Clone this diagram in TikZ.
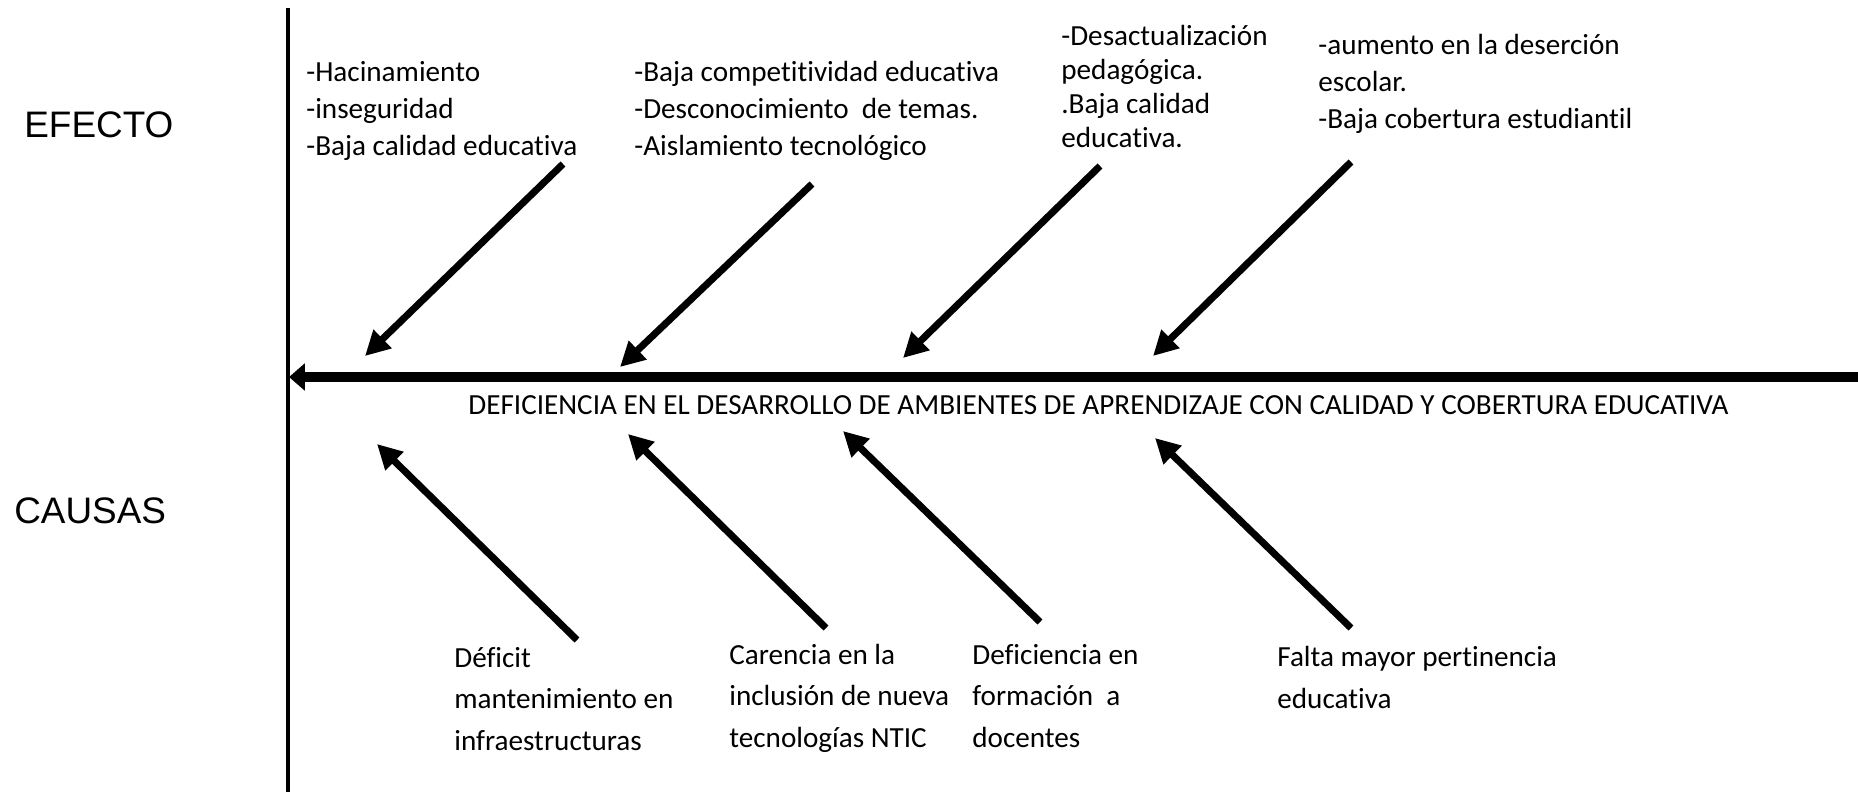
\documentclass[tikz,border=0pt]{standalone}
\usepackage{fontspec}
\setmainfont{Carlito}[Ligatures=NoCommon]
\newfontfamily\arialfont{Liberation Sans}
\usetikzlibrary{arrows.meta}

\begin{document}
\begin{tikzpicture}[x=0.02cm, y=-0.02cm,
    side/.style={font=\arialfont\fontsize{21}{25}\selectfont, anchor=base west, inner sep=0pt},
    txt/.style={font=\fontsize{16.6}{20.8}\selectfont, align=left, anchor=base west, inner sep=0pt},
    axis/.style={line width=2.3pt},
    spine/.style={line width=5.7pt, -{Triangle[length=9pt, width=15pt]}},
    rib/.style={line width=4pt, -{Triangle[length=14pt, width=14pt]}}
  ]
  \useasboundingbox (0,0) rectangle (1858,792);

  \node[side] (efecto) at (24,137) {EFECTO};
  \node[side] (causas) at (14,523) {CAUSAS};

  \coordinate (axtop) at (288,8);
  \coordinate (axbot) at (288,792);
  \draw[axis] (axtop) -- (axbot);

  \coordinate (tail) at (1858,377);
  \coordinate (head) at (289,377);
  \draw[spine] (tail) -- (head);
  \node[txt] (problema) at (468,414)
        {DEFICIENCIA EN EL DESARROLLO DE AMBIENTES DE APRENDIZAJE CON CALIDAD Y COBERTURA EDUCATIVA};

  % efectos (base = last line)
  \node[txt] (ef1) at (306,155) {-Hacinamiento\\-inseguridad\\-Baja calidad educativa};
  \node[txt] (ef2) at (634,155) {-Baja competitividad educativa\\-Desconocimiento\ \ de temas.\\-Aislamiento tecnológico};
  \node[txt, font=\fontsize{16.6}{19.3}\selectfont] (ef3) at (1061,147)
        {-Desactualización\\pedagógica.\\.Baja calidad\\educativa.};
  \node[txt, font=\fontsize{16.6}{21}\selectfont] (ef4) at (1318,128)
        {-aumento en la deserción\\escolar.\\-Baja cobertura estudiantil};

  \coordinate (e1s) at (563,164);  \coordinate (e1t) at (365,356);
  \coordinate (e2s) at (812,184);  \coordinate (e2t) at (620,367);
  \coordinate (e3s) at (1100,166); \coordinate (e3t) at (903,358);
  \coordinate (e4s) at (1351,162); \coordinate (e4t) at (1153,356);
  \draw[rib] (e1s) -- (e1t);
  \draw[rib] (e2s) -- (e2t);
  \draw[rib] (e3s) -- (e3t);
  \draw[rib] (e4s) -- (e4t);

  % causas
  \node[txt, font=\fontsize{16.6}{23.6}\selectfont] (ca1) at (454,750)
        {Déficit\\mantenimiento en\\infraestructuras};
  \node[txt, font=\fontsize{16.6}{23.6}\selectfont] (ca2) at (729,747)
        {Carencia en la\\inclusión de nueva\\tecnologías NTIC};
  \node[txt, font=\fontsize{16.6}{23.6}\selectfont] (ca3) at (972,747)
        {Deficiencia en\\formación\ \ a\\docentes};
  \node[txt, font=\fontsize{16.6}{23.6}\selectfont] (ca4) at (1277,708)
        {Falta mayor pertinencia\\educativa};

  \coordinate (c1s) at (577,640);  \coordinate (c1t) at (377,444);
  \coordinate (c2s) at (826,628);  \coordinate (c2t) at (628,434);
  \coordinate (c3s) at (1040,622); \coordinate (c3t) at (843,431);
  \coordinate (c4s) at (1351,628); \coordinate (c4t) at (1155,438);
  \draw[rib] (c1s) -- (c1t);
  \draw[rib] (c2s) -- (c2t);
  \draw[rib] (c3s) -- (c3t);
  \draw[rib] (c4s) -- (c4t);
\end{tikzpicture}
\end{document}
